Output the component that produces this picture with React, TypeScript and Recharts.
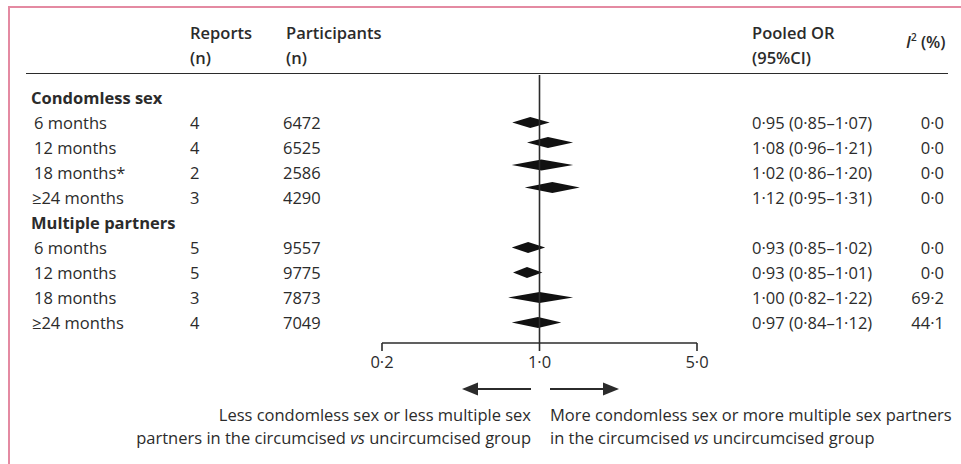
import React from 'react'
import { ComposedChart, Bar, XAxis, YAxis, ReferenceLine } from 'recharts'

// table data
const groups = ['Condomless sex', 'Multiple partners']
const periods = ['6 months', '12 months', '18 months*', '≥24 months', '6 months', '12 months', '18 months', '≥24 months']
const groupOf = [0, 0, 0, 0, 1, 1, 1, 1]
const reports = [4, 4, 2, 3, 5, 5, 3, 4]
const participants = [6472, 6525, 2586, 4290, 9557, 9775, 7873, 7049]
const pooledOR = [0.95, 1.08, 1.02, 1.12, 0.93, 0.93, 1.0, 0.97]
const ciLow = [0.85, 0.96, 0.86, 0.95, 0.85, 0.85, 0.82, 0.84]
const ciHigh = [1.07, 1.21, 1.2, 1.31, 1.02, 1.01, 1.22, 1.12]
const iSquared = [0, 0, 0, 0, 0, 0, 69.2, 44.1]

// diamonds as drawn in the figure
const diamondLow = [0.757, 0.88, 0.753, 0.86, 0.753, 0.763, 0.725, 0.753]
const diamondMid = [0.91, 1.09, 1.02, 1.14, 0.89, 0.88, 1.0, 0.985]
const diamondHigh = [1.11, 1.41, 1.41, 1.51, 1.06, 1.03, 1.41, 1.25]
const diamondRow = [1, 1.8, 2.7, 3.6, 6, 7, 8, 9]

const xTicks = [0.2, 1, 5]

const W = 961
const H = 464
const INK = '#2b2b2b'
const FONT = '"Open Sans", Lato, sans-serif'
const FS = 16.5

const dot = (v: number, d = 2) => v.toFixed(d).replace('.', '·')

type Row = { header?: string; idx?: number }

// one table row per y tick: group header followed by its periods
const rows: Row[] = []
groups.forEach((g, gi) => {
  rows.push({ header: g })
  periods.forEach((_, i) => {
    if (groupOf[i] === gi) rows.push({ idx: i })
  })
})

const diamonds = periods.map((p, i) => ({
  name: p,
  pos: diamondRow[i],
  range: [diamondLow[i], diamondHigh[i]],
  low: diamondLow[i],
  mid: diamondMid[i],
  high: diamondHigh[i],
}))

const RowTick = (props: any) => {
  const { y, payload } = props
  const row = rows[payload.value]
  if (!row) return null
  const common = { y, dominantBaseline: 'central' as const, fill: INK, fontSize: FS, fontFamily: FONT }
  if (row.header) {
    return (
      <text {...common} x={31} fontWeight={700}>
        {row.header}
      </text>
    )
  }
  const i = row.idx as number
  return (
    <g>
      <text {...common} x={periods[i].startsWith('≥') ? 32 : 34}>{periods[i]}</text>
      <text {...common} x={190}>{reports[i]}</text>
      <text {...common} x={283}>{participants[i]}</text>
      <text {...common} x={752}>
        {`${dot(pooledOR[i])} (${dot(ciLow[i])}–${dot(ciHigh[i])})`}
      </text>
      <text {...common} x={944} textAnchor="end">{dot(iSquared[i], 1)}</text>
    </g>
  )
}

// diamond spanning the drawn interval, peak at the point estimate (log scale)
const Diamond = (props: any) => {
  const { x, y, width, height, payload } = props
  if (width == null || payload == null) return null
  const t = Math.log(payload.mid / payload.low) / Math.log(payload.high / payload.low)
  const px = x + width * t
  const cy = y + height / 2
  const pts = `${x},${cy} ${px},${y} ${x + width},${cy} ${px},${y + height}`
  return <polygon points={pts} fill="#111" />
}

const headStyle: React.CSSProperties = {
  position: 'absolute',
  fontWeight: 600,
  fontSize: FS,
  lineHeight: '25px',
  color: INK,
  whiteSpace: 'nowrap',
}

export default function App() {
  return (
    <div style={{ position: 'relative', width: W, height: H, background: '#fff', fontFamily: FONT, overflow: 'hidden' }}>
      <style>{'body{margin:0}'}</style>
      {/* frame */}
      <div
        style={{
          position: 'absolute',
          left: 8,
          top: 6,
          width: W,
          height: H,
          borderLeft: '2px solid #e48aa2',
          borderTop: '2px solid #e48aa2',
        }}
      />

      {/* column headers */}
      <div style={{ ...headStyle, left: 190, top: 20 }}>Reports<br />(n)</div>
      <div style={{ ...headStyle, left: 286, top: 20 }}>Participants<br />(n)</div>
      <div style={{ ...headStyle, left: 752, top: 20 }}>Pooled OR<br />(95%CI)</div>
      <div style={{ ...headStyle, left: 906, top: 25 }}>
        <i>I</i>
        <sup style={{ fontSize: 10 }}>2</sup>
        {' (%)'}
      </div>
      <div style={{ position: 'absolute', left: 26, top: 73, width: 922, height: 0, borderTop: `1.5px solid ${INK}` }} />

      <ComposedChart
        width={W}
        height={H}
        layout="vertical"
        data={diamonds}
        margin={{ top: 75, right: 264, bottom: 91, left: 381 }}
        style={{ position: 'absolute', left: 0, top: 0 }}
      >
        <XAxis
          type="number"
          scale="log"
          domain={[0.2, 5]}
          ticks={xTicks}
          allowDataOverflow
          height={30}
          tickSize={8}
          tickMargin={5}
          tickFormatter={(v: number) => dot(v, 1)}
          tick={{ fontSize: FS, fill: INK, fontFamily: FONT }}
          axisLine={{ stroke: INK, strokeWidth: 1.6 }}
          tickLine={{ stroke: INK, strokeWidth: 1.6 }}
        />
        <YAxis
          type="number"
          dataKey="pos"
          domain={[-0.88, 9.84]}
          ticks={rows.map((_, i) => i)}
          interval={0}
          width={1}
          axisLine={false}
          tickLine={false}
          tick={<RowTick />}
        />
        <ReferenceLine x={1} stroke={INK} strokeWidth={1.6} />
        <Bar dataKey="range" barSize={11} shape={<Diamond />} isAnimationActive={false} />
      </ComposedChart>

      {/* direction arrows */}
      <svg width={W} height={H} style={{ position: 'absolute', left: 0, top: 0, pointerEvents: 'none' }}>
        <line x1={531} y1={389} x2={474} y2={389} stroke={INK} strokeWidth={2} />
        <polygon points="462,389 478,382.5 478,395.5" fill={INK} />
        <line x1={550} y1={389} x2={607} y2={389} stroke={INK} strokeWidth={2} />
        <polygon points="619,389 603,382.5 603,395.5" fill={INK} />
      </svg>

      <div style={{ position: 'absolute', right: W - 531, top: 403, fontSize: FS, lineHeight: '23px', color: INK, textAlign: 'right', whiteSpace: 'nowrap' }}>
        Less condomless sex or less multiple sex
        <br />
        partners in the circumcised <i>vs</i> uncircumcised group
      </div>
      <div style={{ position: 'absolute', left: 550, top: 403, fontSize: FS, lineHeight: '23px', color: INK, whiteSpace: 'nowrap' }}>
        More condomless sex or more multiple sex partners
        <br />
        in the circumcised <i>vs</i> uncircumcised group
      </div>
    </div>
  )
}
